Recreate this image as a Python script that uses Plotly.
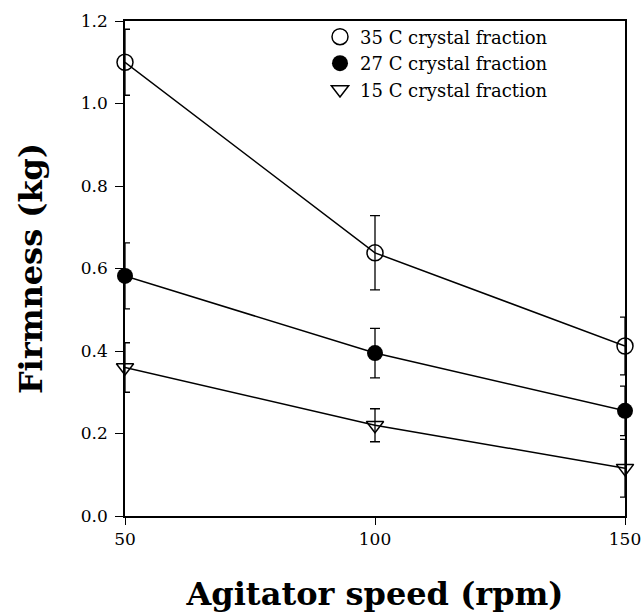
import plotly.graph_objects as go

# Agitator speed (rpm)
speed = [50, 100, 150]

# Firmness (kg) per crystal fraction, with standard deviations
firm_35 = [1.10, 0.638, 0.412]
err_35 = [0.08, 0.09, 0.07]
firm_27 = [0.582, 0.395, 0.255]
err_27 = [0.08, 0.06, 0.06]
firm_15 = [0.36, 0.22, 0.116]
err_15 = [0.06, 0.04, 0.07]

series_names = ["35 C crystal fraction", "27 C crystal fraction", "15 C crystal fraction"]

y_ticks = [0.0, 0.2, 0.4, 0.6, 0.8, 1.0, 1.2]
x_ticks = [50, 100, 150]

SERIF = "DejaVu Serif"

styles = [
    dict(symbol="circle-open", size=16, line=dict(width=1.5, color="black"), color="black"),
    dict(symbol="circle", size=16, color="black"),
    dict(symbol="triangle-down-open", size=15, line=dict(width=1.5, color="black"), color="black"),
]

fig = go.Figure()

for name, ys, es, mk in zip(series_names,
                            [firm_35, firm_27, firm_15],
                            [err_35, err_27, err_15],
                            styles):
    fig.add_trace(go.Scatter(
        x=speed, y=ys, mode="lines+markers", name=name,
        line=dict(color="black", width=1.5),
        marker=dict(**mk),
        error_y=dict(type="data", array=es, visible=True,
                     color="black", thickness=1.3, width=5),
        cliponaxis=False, showlegend=False,
    ))
    # marker-only entry for the key
    fig.add_trace(go.Scatter(
        x=[None], y=[None], mode="markers", name=name,
        marker=dict(**mk), showlegend=True,
    ))

fig.update_layout(
    width=641, height=614,
    margin=dict(l=125, r=16, t=21, b=98),
    paper_bgcolor="white", plot_bgcolor="white",
    font=dict(family=SERIF, color="black", size=17),
    legend=dict(
        x=0.39, y=1.005, xanchor="left", yanchor="top",
        bgcolor="rgba(0,0,0,0)", borderwidth=0,
        font=dict(family=SERIF, size=18, color="black"),
        itemwidth=30, tracegroupgap=0,
    ),
)

fig.update_xaxes(
    range=[50, 150], autorange=False,
    tickvals=x_ticks, ticktext=[str(v) for v in x_ticks],
    ticks="outside", ticklen=7, tickwidth=1.3, tickcolor="black",
    showline=True, linecolor="black", linewidth=1.5, mirror=True,
    showgrid=False, zeroline=False, automargin=False,
    ticklabeloverflow="allow",
    tickfont=dict(family=SERIF, size=17),
    title=dict(text="Agitator speed (rpm)",
               font=dict(family=SERIF, size=32, weight="bold"), standoff=34),
)
fig.update_yaxes(
    range=[0, 1.2], autorange=False,
    tickvals=y_ticks, ticktext=[f"{v:.1f}" for v in y_ticks],
    ticks="outside", ticklen=8, tickwidth=1.3, tickcolor="black",
    showline=True, linecolor="black", linewidth=1.5, mirror=True,
    showgrid=False, zeroline=False, automargin=False,
    ticklabelstandoff=4, ticklabeloverflow="allow",
    tickfont=dict(family=SERIF, size=17),
    title=dict(text="Firmness (kg)",
               font=dict(family=SERIF, size=32, weight="bold"), standoff=29),
)

fig.write_html("out.html")
